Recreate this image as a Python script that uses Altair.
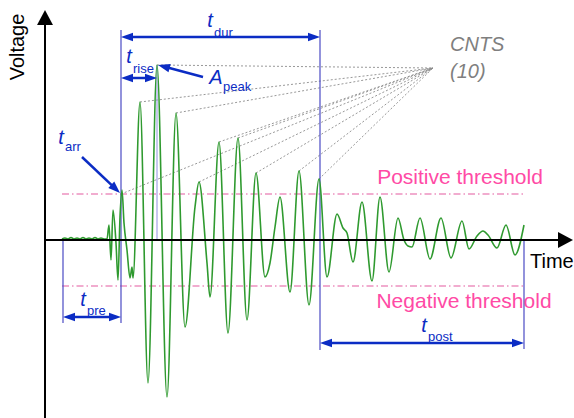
import math
import altair as alt
import pandas as pd

# ---------------- data (time / voltage in arbitrary units) ----------------
wave_t = [17, 20, 23, 26, 29, 32, 35, 38, 41, 44, 47, 50, 53, 56, 59, 62,
          64, 66, 68, 71, 73, 75, 77, 79, 82, 85, 87, 88, 95, 103, 112, 122,
          131, 140, 150, 154, 162, 165, 174, 183, 193, 202, 211, 220, 225, 230,
          235, 245, 254, 264, 274, 282, 292, 298, 302, 308, 317, 327, 335, 344,
          353, 359, 363, 367, 375, 385, 396, 406, 417, 424, 432, 438, 443, 452,
          461, 470, 479]
wave_v = [1, 2, 1, 2.5, 1, 2, 1, 2.5, 1, 2, 1, 2.5, 1, 2, 1, 1,
          15, -20, 30, -3, -40, 23, 50, 17, -10, -38, -27, -38, 138, -143, 175, -157,
          127, -87, 33, 58, -23, -57, 98, -93, 102, -80, 67, -37, -23, 13,
          43, -52, 69, -65, 61, -37, 26, 12, 7, -22, 38, -41, 43, -32,
          22, 0, -6, -7, 22, -19, 22, -18, 19, -9, 4, 9, 5, -8,
          15, -15, 15]

threshold = 46
t_pre_start = 18
t_arrival = 76
t_peak = 112
a_peak = 175
t_end = 275
t_post_end = 479

cnts_t = [76, 95, 112, 131, 154, 174, 193, 211, 254, 274]
cnts_v = [46, 138, 175, 127, 58, 98, 102, 67, 69, 61]
cnts_focus_t, cnts_focus_v = 388, 172

X_DOMAIN = [-45, 529]
Y_DOMAIN = [-178, 240]
W, H = 574, 418

GREEN = "#2f9a2f"
BLUE = "#0b2cc4"
GUIDE = "#4a4ac4"
PINK_TXT = "#ff4aa5"
PINK_LINE = "#e45aa0"
GRAY = "#7f7f7f"
FONT = "Liberation Sans"

xs = alt.Scale(domain=X_DOMAIN, nice=False, zero=False)
ys = alt.Scale(domain=Y_DOMAIN, nice=False, zero=False)


def X(f="t"):
    return alt.X(f"{f}:Q", scale=xs, axis=None)


def Y(f="v"):
    return alt.Y(f"{f}:Q", scale=ys, axis=None)


def ang(t0, v0, t1, v1):
    return math.degrees(math.atan2(-(v1 - v0), t1 - t0)) % 360


HEAD = "M0,0 L-1,-0.36 L-1,0.36 Z"
AXHEAD = "M0,0 L-1,-0.53 L-1,0.53 Z"

# ---------------- axes ----------------
axes_df = pd.DataFrame([
    dict(t=0, v=Y_DOMAIN[0], t2=0, v2=218),
    dict(t=0, v=0, t2=516, v2=0),
])
axes = alt.Chart(axes_df).mark_rule(color="black", strokeWidth=2).encode(
    x=X(), y=Y(), x2="t2:Q", y2="v2:Q")
axheads_df = pd.DataFrame([dict(t=0, v=230, a=270), dict(t=528, v=0, a=0)])
axheads = alt.Chart(axheads_df).mark_point(
    shape=AXHEAD, filled=True, color="black", size=900, opacity=1, strokeWidth=0
).encode(x=X(), y=Y(), angle=alt.Angle("a:Q", scale=None))

# ---------------- thresholds ----------------
thr_df = pd.DataFrame([
    dict(t=t_pre_start - 1, v=threshold, t2=t_post_end),
    dict(t=t_pre_start - 1, v=-threshold, t2=t_post_end),
])
thr = alt.Chart(thr_df).mark_rule(color=PINK_LINE, strokeWidth=1.2,
                                  strokeDash=[7, 3, 1.5, 3]).encode(
    x=X(), y=Y(), x2="t2:Q")

# ---------------- CNTS dotted lines ----------------
cnts_df = pd.DataFrame(dict(t=cnts_t, v=cnts_v))
cnts_df["t2"] = cnts_focus_t
cnts_df["v2"] = cnts_focus_v
cnts = alt.Chart(cnts_df).mark_rule(color="#8c8c8c", strokeWidth=0.9,
                                    strokeDash=[2, 2]).encode(
    x=X(), y=Y(), x2="t2:Q", y2="v2:Q")

# ---------------- waveform ----------------
wave_df = pd.DataFrame(dict(t=wave_t, v=wave_v))
wave = alt.Chart(wave_df).mark_line(color=GREEN, strokeWidth=1.6,
                                    interpolate="monotone").encode(x=X(), y=Y())

# ---------------- vertical guides ----------------
guides_df = pd.DataFrame([
    dict(t=t_pre_start, v=0, v2=-83),
    dict(t=t_arrival, v=210, v2=-83),
    dict(t=t_end, v=210, v2=-110),
    dict(t=t_post_end, v=0, v2=-109),
])
guides = alt.Chart(guides_df).mark_rule(color=GUIDE, strokeWidth=1.2).encode(
    x=X(), y=Y(), y2="v2:Q")
peak_guide = alt.Chart(pd.DataFrame([dict(t=t_peak, v=a_peak, v2=0)])).mark_rule(
    color="#8f8fe0", strokeWidth=1).encode(x=X(), y=Y(), y2="v2:Q")

# ---------------- blue arrows ----------------
double_arrows = [
    (t_arrival, t_end, 203),          # t_dur
    (t_arrival, t_peak, 162),         # t_rise
    (t_pre_start, t_arrival, -77),    # t_pre
    (t_end, t_post_end, -103),        # t_post
]
single_arrows = [
    (158, 163, t_peak + 1, a_peak),   # A_peak: tail -> tip
    (37, 83, t_arrival - 1, threshold + 1),  # t_arr
]
HL = 12
shafts, heads = [], []
for a, b, v in double_arrows:
    shafts.append(dict(t=a + 6, v=v, t2=b - 6, v2=v))
    heads.append(dict(t=a, v=v, a=180))
    heads.append(dict(t=b, v=v, a=0))
for t0, v0, t1, v1 in single_arrows:
    L = math.hypot(t1 - t0, v1 - v0)
    te = t1 - (t1 - t0) / L * 6
    ve = v1 - (v1 - v0) / L * 6
    shafts.append(dict(t=t0, v=v0, t2=te, v2=ve))
    heads.append(dict(t=t1, v=v1, a=ang(t0, v0, t1, v1)))
shaft = alt.Chart(pd.DataFrame(shafts)).mark_rule(color=BLUE, strokeWidth=2.5).encode(
    x=X(), y=Y(), x2="t2:Q", y2="v2:Q")
head = alt.Chart(pd.DataFrame(heads)).mark_point(
    shape=HEAD, filled=True, color=BLUE, size=(2 * HL) ** 2, opacity=1, strokeWidth=0
).encode(x=X(), y=Y(), angle=alt.Angle("a:Q", scale=None))

# ---------------- labels ----------------
main_lbl = pd.DataFrame([
    dict(t=165, v=219, s="t"),
    dict(t=84, v=183, s="t"),
    dict(t=171, v=162, s="A"),
    dict(t=16, v=102, s="t"),
    dict(t=38, v=-60, s="t"),
    dict(t=379, v=-86, s="t"),
])
sub_lbl = pd.DataFrame([
    dict(t=169, v=207, s="dur"),
    dict(t=88, v=171, s="rise"),
    dict(t=178, v=153, s="peak"),
    dict(t=20, v=93, s="arr"),
    dict(t=42, v=-71, s="pre"),
    dict(t=383, v=-97, s="post"),
])
main_txt = alt.Chart(main_lbl).mark_text(
    font=FONT, fontSize=20, fontStyle="italic", color=BLUE, align="center",
    baseline="middle").encode(x=X(), y=Y(), text="s:N")
sub_txt = alt.Chart(sub_lbl).mark_text(
    font=FONT, fontSize=13, color=BLUE, align="left",
    baseline="middle").encode(x=X(), y=Y(), text="s:N")

thr_lbl = pd.DataFrame([
    dict(t=415, v=62, s="Positive threshold"),
    dict(t=419, v=-62, s="Negative threshold"),
])
thr_txt = alt.Chart(thr_lbl).mark_text(
    font=FONT, fontSize=21, color=PINK_TXT, align="center", baseline="middle"
).encode(x=X(), y=Y(), text="s:N")

cnts_lbl = pd.DataFrame([
    dict(t=405, v=195, s="CNTS"),
    dict(t=405, v=168, s="(10)"),
])
cnts_txt = alt.Chart(cnts_lbl).mark_text(
    font=FONT, fontSize=20, fontStyle="italic", color=GRAY, align="left",
    baseline="middle").encode(x=X(), y=Y(), text="s:N")

volt_txt = alt.Chart(pd.DataFrame([dict(t=-27, v=193, s="Voltage")])).mark_text(
    font=FONT, fontSize=20, color="black", align="center", baseline="middle",
    angle=270).encode(x=X(), y=Y(), text="s:N")
time_txt = alt.Chart(pd.DataFrame([dict(t=485, v=-22, s="Time")])).mark_text(
    font=FONT, fontSize=20, color="black", align="left", baseline="middle"
).encode(x=X(), y=Y(), text="s:N")

chart = alt.layer(
    cnts, thr, guides, peak_guide, wave, axes, axheads, shaft, head,
    main_txt, sub_txt, thr_txt, cnts_txt, volt_txt, time_txt
).properties(
    width=W, height=H, padding=0, autosize=alt.AutoSizeParams(type="none")
).configure_view(stroke=None)

chart.save("out.html", embed_options={"renderer": "svg", "actions": False})
